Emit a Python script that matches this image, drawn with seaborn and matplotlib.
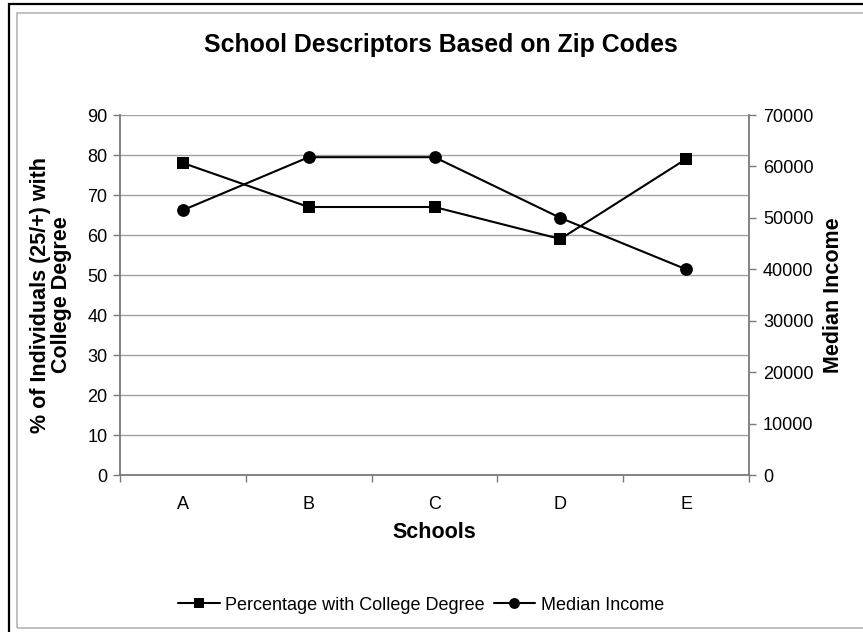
import numpy as np
import pandas as pd
import matplotlib
matplotlib.use("Agg")
import matplotlib.pyplot as plt
from matplotlib.patches import Rectangle
import seaborn as sns

schools = ["A", "B", "C", "D", "E"]
pct_college = [78, 67, 67, 59, 79]
median_income = [51500, 61800, 61800, 50000, 40000]
left_ticks = list(range(0, 91, 10))
right_ticks = list(range(0, 70001, 10000))

sns.set_theme(style="white")
plt.rcParams["font.family"] = ["Liberation Sans", "DejaVu Sans"]
plt.rcParams["text.color"] = "black"

W, H = 863, 632
fig = plt.figure(figsize=(W / 100, H / 100), dpi=100)

def fx(px):
    return px / W

def fy(py):
    return 1 - py / H

ax = fig.add_axes([fx(120), fy(475), fx(749) - fx(120), fy(115) - fy(475)])
ax2 = ax.twinx()

df = pd.DataFrame({"pos": np.arange(len(schools)), "school": schools,
                   "pct": pct_college, "income": median_income})

sns.lineplot(data=df, x="pos", y="pct", ax=ax, color="black", lw=1.5,
             marker="s", markersize=9.2, markeredgewidth=0, legend=False,
             label="Percentage with College Degree")
sns.lineplot(data=df, x="pos", y="income", ax=ax2, color="black", lw=1.5,
             marker="o", markersize=9.2, markeredgewidth=0, legend=False,
             label="Median Income")

ax.set_xlim(-0.5, len(schools) - 0.5)
ax.set_ylim(0, 90)
ax2.set_ylim(0, 70000)

ax.set_yticks(left_ticks)
ax2.set_yticks(right_ticks)
ax.set_xticks(df["pos"])
ax.set_xticklabels(schools)
ax.set_xticks(np.arange(-0.5, len(schools), 1.0), minor=True)

ax.yaxis.grid(True, color="#a0a0a0", lw=1)
ax.xaxis.grid(False)
ax2.grid(False)
ax.set_axisbelow(True)

spine_col = "#7a7a7a"
for a in (ax, ax2):
    for s in a.spines.values():
        s.set_color(spine_col)
        s.set_linewidth(1.3)
    a.spines["top"].set_visible(False)
ax.spines["right"].set_visible(False)
ax2.spines["left"].set_visible(False)
ax2.spines["bottom"].set_visible(False)

tick_fs = 13
ax.tick_params(axis="y", which="major", left=True, length=5, width=1,
               color=spine_col, labelsize=tick_fs, pad=4)
ax.tick_params(axis="x", which="major", bottom=False, labelsize=tick_fs, pad=9)
ax.tick_params(axis="x", which="minor", bottom=True, length=5, width=1,
               color=spine_col)
ax2.tick_params(axis="y", right=True, length=5, width=1, color=spine_col,
                labelsize=tick_fs, pad=5)
for lab in ax.get_xticklabels() + ax.get_yticklabels() + ax2.get_yticklabels():
    lab.set_color("black")

ax.set_xlabel("")
ax.set_ylabel("")
ax2.set_ylabel("")

label_fs = 15.5
fig.text(fx(434), fy(532), "Schools", ha="center", va="center",
         fontsize=label_fs, fontweight="bold")
fig.text(fx(51), fy(295), "% of Individuals (25/+) with\nCollege Degree",
         ha="center", va="center", rotation=90, multialignment="center",
         fontsize=label_fs, fontweight="bold", linespacing=1.05)
fig.text(fx(833), fy(295), "Median Income", ha="center", va="center",
         rotation=90, fontsize=label_fs, fontweight="bold")
fig.text(fx(441), fy(45), "School Descriptors Based on Zip Codes",
         ha="center", va="center", fontsize=17.9, fontweight="bold")

handles = ax.get_lines()[:1] + ax2.get_lines()[:1]
fig.legend(handles, [h.get_label() for h in handles], loc="center",
           bbox_to_anchor=(fx(421), fy(605)), ncol=2, frameon=False,
           fontsize=13, handlelength=2.3, handletextpad=0.3,
           columnspacing=0.5, markerscale=0.85)

# outer frames
fig.patches.append(Rectangle((fx(9), fy(640)), fx(900), fy(4) - fy(640),
                             transform=fig.transFigure, fill=False,
                             edgecolor="black", lw=1.6, zorder=0))
fig.patches.append(Rectangle((fx(16.5), fy(628)), fx(900), fy(12.5) - fy(628),
                             transform=fig.transFigure, fill=False,
                             edgecolor="#b5b5b5", lw=1.2, zorder=0))

fig.savefig("out.png", dpi=100)
